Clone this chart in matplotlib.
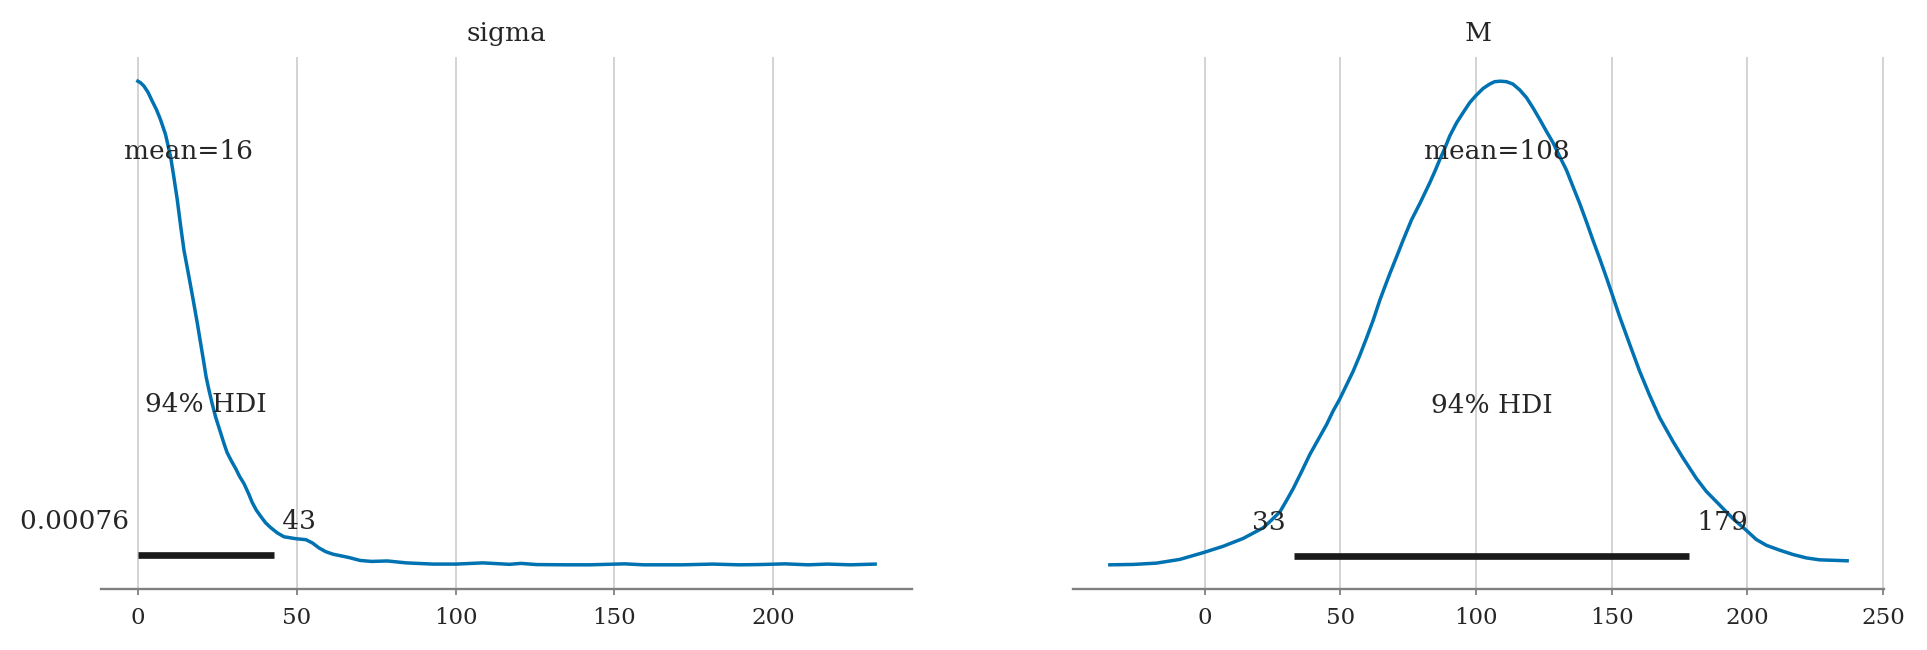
# Posterior plot for sigma and M (arviz-style), rebuilt from read-off KDE points
import numpy as np
import matplotlib.pyplot as plt

# KDE of sigma: x positions and relative density (peak = 1)
sigma_x = [0.0, 0.8, 1.9, 3.2, 4.5, 5.8, 7.1, 8.7, 10.3, 11.3, 12.4, 13.5, 14.5,
           16.1, 17.3, 18.7, 20.8, 21.5, 22.4, 23.4, 24.5, 26.1, 27.1, 28.1, 29.5,
           30.8, 32.0, 33.4, 34.8, 36.0, 37.3, 38.7, 40.2, 41.8, 43.9, 46.0, 49.7,
           52.9, 55.0, 57.0, 59.2, 61.4, 66.5, 70.0, 73.6, 78.5, 84.5, 92.9, 100.2,
           108.6, 117.0, 120.6, 125.5, 135.1, 142.3, 153.2, 159.2, 171.3, 180.9,
           189.3, 195.4, 203.8, 211.0, 217.1, 224.3, 232.1]
sigma_dens = [1.000, 0.997, 0.990, 0.977, 0.959, 0.942, 0.921, 0.890, 0.844, 0.803,
              0.755, 0.699, 0.651, 0.595, 0.552, 0.500, 0.417, 0.388, 0.361, 0.333,
              0.305, 0.272, 0.251, 0.232, 0.214, 0.199, 0.183, 0.168, 0.148, 0.129,
              0.113, 0.100, 0.087, 0.077, 0.066, 0.058, 0.054, 0.052, 0.045, 0.035,
              0.027, 0.022, 0.015, 0.009, 0.007, 0.008, 0.004, 0.0015, 0.0015, 0.004,
              0.001, 0.003, 0.0005, 0.0, 0.0, 0.002, 0.0, 0.0, 0.0015, 0.0, 0.0005,
              0.002, 0.0, 0.0015, 0.0, 0.0015]

# KDE of M
m_x = [-35.0, -26.4, -17.8, -9.2, -0.7, 6.8, 14.1, 21.5, 24.6, 27.7, 30.1, 32.6,
       35.7, 38.7, 41.8, 44.9, 47.3, 49.7, 52.2, 54.7, 57.1, 59.6, 62.0, 64.5,
       66.3, 68.2, 70.7, 73.1, 76.2, 79.3, 81.1, 82.9, 84.8, 86.6, 88.5, 90.3,
       92.8, 95.2, 97.7, 99.9, 102.6, 105.0, 106.9, 109.0, 111.2, 113.6, 116.1,
       118.6, 121.0, 123.5, 125.9, 128.4, 130.8, 133.3, 135.7, 138.2, 140.7,
       143.1, 145.6, 148.0, 150.5, 152.9, 156.6, 160.3, 164.0, 167.7, 172.6,
       176.3, 181.2, 184.9, 189.8, 194.7, 199.6, 203.3, 207.0, 211.9, 216.8,
       221.7, 226.6, 236.8]
m_dens = [0.0027, 0.0035, 0.0062, 0.0139, 0.0276, 0.041, 0.057, 0.079, 0.095, 0.112,
          0.135, 0.160, 0.195, 0.230, 0.261, 0.292, 0.320, 0.344, 0.373, 0.402,
          0.434, 0.470, 0.506, 0.548, 0.575, 0.603, 0.638, 0.672, 0.714, 0.748,
          0.769, 0.790, 0.814, 0.838, 0.862, 0.887, 0.914, 0.935, 0.956, 0.970,
          0.985, 0.994, 0.999, 1.000, 0.999, 0.994, 0.982, 0.966, 0.945, 0.921,
          0.897, 0.873, 0.845, 0.817, 0.783, 0.748, 0.710, 0.672, 0.634, 0.596,
          0.555, 0.515, 0.458, 0.402, 0.352, 0.306, 0.257, 0.223, 0.181, 0.154,
          0.126, 0.098, 0.074, 0.055, 0.043, 0.033, 0.024, 0.017, 0.013, 0.011]

var_names = ['sigma', 'M']
means = [16.0, 107.6]
hdi_low = [0.00076, 32.9]
hdi_high = [42.7, 178.6]
hdi_prob = 0.94


def round_num(n, round_to=2):
    # same rule as arviz: at least the integer digits, else 2 significant figures
    if n == 0:
        sig = 1
    else:
        sig = max(int(np.log10(abs(n))) + 1, round_to)
    return '{:.{}g}'.format(n, sig)


plt.rcParams['font.family'] = ['DejaVu Serif']
text_color = '#262626'
line_blue = '#0072B2'
text_size = 19
tick_size = 16.5

fig = plt.figure(figsize=(19.27, 6.5), dpi=100)
positions = [[101 / 1927, 61 / 650, 811 / 1927, 532 / 650],
             [1073 / 1927, 61 / 650, 811 / 1927, 532 / 650]]

curves = [(sigma_x, sigma_dens), (m_x, m_dens)]

for i, name in enumerate(var_names):
    ax = fig.add_axes(positions[i])
    xs, ds = curves[i]
    ax.plot(xs, ds, color=line_blue, lw=2.5, solid_joinstyle='round')
    plot_height = ax.get_ylim()[1]

    lo, hi = hdi_low[i], hdi_high[i]
    ax.plot([lo, hi], [plot_height * 0.02] * 2, color='#1a1a1a', lw=4.8,
            solid_capstyle='butt')
    ax.text(lo, plot_height * 0.07, round_num(lo) + ' ', size=text_size,
            ha='right', color=text_color)
    ax.text(hi, plot_height * 0.07, ' ' + round_num(hi), size=text_size,
            ha='left', color=text_color)
    ax.text((lo + hi) / 2, plot_height * 0.3, f'{hdi_prob:.0%} HDI',
            size=text_size, ha='center', color=text_color)
    ax.text(means[i], plot_height * 0.8, 'mean=' + round_num(means[i]),
            size=text_size, ha='center', color=text_color)

    ax.set_title(name, fontsize=text_size, color=text_color, pad=11.5)
    ax.set_yticks([])
    for side in ['top', 'left', 'right']:
        ax.spines[side].set_visible(False)
    ax.spines['bottom'].set_color('#808080')
    ax.spines['bottom'].set_linewidth(1.7)
    ax.grid(axis='x', color='#c8c8c8', lw=1.1)
    ax.set_axisbelow(True)
    ax.tick_params(axis='x', labelsize=tick_size, colors='#808080',
                   labelcolor=text_color, length=4.5, width=1.3, pad=8.3)

fig.savefig('out.png', dpi=100, facecolor='white')
